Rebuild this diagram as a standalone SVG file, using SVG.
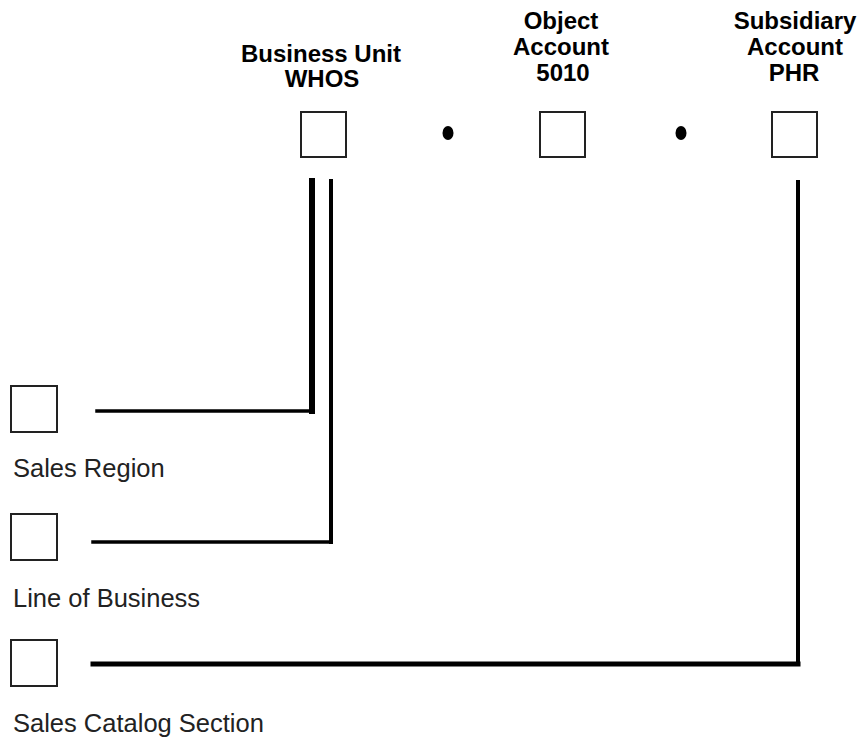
<svg xmlns="http://www.w3.org/2000/svg" width="863" height="738" viewBox="0 0 863 738">
<style>
.box{fill:#fff;stroke:#222;stroke-width:2}
.hdr{font-family:"Liberation Sans",Arial,sans-serif;font-weight:bold;font-size:24px;fill:#000;text-anchor:middle}
.lbl{font-family:"Liberation Sans",Arial,sans-serif;font-size:25.5px;fill:#222}
.ln{stroke:#000;fill:none;stroke-linecap:square}
</style>
<rect width="863" height="738" fill="#fff"/>
<g id="business-unit">
<text class="hdr" x="321" y="62">Business Unit</text>
<text class="hdr" x="322" y="87">WHOS</text>
<rect class="box" x="301" y="112" width="45" height="45"/>
</g>
<g id="dot1"><ellipse cx="448" cy="133" rx="5.5" ry="7" fill="#000"/></g>
<g id="object-account">
<text class="hdr" x="561" y="29">Object</text>
<text class="hdr" x="561" y="55">Account</text>
<text class="hdr" x="563" y="81">5010</text>
<rect class="box" x="540" y="112" width="45" height="45"/>
</g>
<g id="dot2"><ellipse cx="681" cy="133" rx="5.5" ry="7" fill="#000"/></g>
<g id="subsidiary-account">
<text class="hdr" x="795" y="29">Subsidiary</text>
<text class="hdr" x="795" y="55">Account</text>
<text class="hdr" x="794" y="81">PHR</text>
<rect class="box" x="772" y="112" width="45" height="45"/>
</g>
<g id="sales-region">
<rect class="box" x="11" y="386" width="46" height="46"/>
<text class="lbl" x="13" y="477">Sales Region</text>
</g>
<g id="line-of-business">
<rect class="box" x="11" y="514" width="46" height="46"/>
<text class="lbl" x="13" y="607">Line of Business</text>
</g>
<g id="sales-catalog-section">
<rect class="box" x="11" y="640" width="46" height="46"/>
<text class="lbl" x="13" y="732">Sales Catalog Section</text>
</g>
<g id="connectors">
<line class="ln" x1="312" y1="181" x2="312" y2="411" stroke-width="6"/>
<line class="ln" x1="97" y1="411" x2="312" y2="411" stroke-width="3.5"/>
<line class="ln" x1="331" y1="181" x2="331" y2="542" stroke-width="4"/>
<line class="ln" x1="93" y1="542" x2="331" y2="542" stroke-width="3.5"/>
<line class="ln" x1="798" y1="182" x2="798" y2="664" stroke-width="4"/>
<line class="ln" x1="93" y1="664" x2="798" y2="664" stroke-width="5"/>
</g>
</svg>
